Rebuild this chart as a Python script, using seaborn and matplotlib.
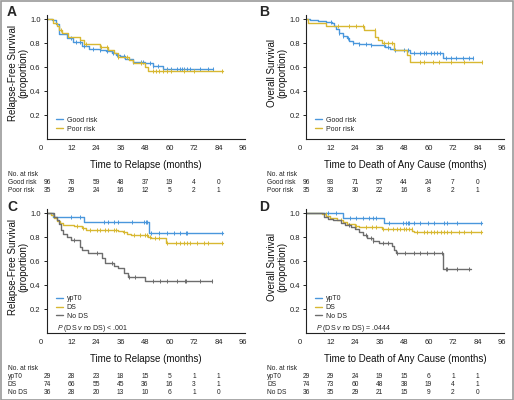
import numpy as np
import seaborn as sns
import matplotlib.pyplot as plt
from matplotlib import transforms
from matplotlib.patches import Rectangle

# colours of the groups
blue = '#4a97dc'
yellow = '#d8b832'
gray = '#6d6d6d'

months = [0, 12, 24, 36, 48, 60, 72, 84]

# --- A: relapse-free survival by risk group
a_good_t = [0, 2.5, 4.5, 6, 10, 12.6, 17, 20.5, 26, 29, 32, 34, 36, 38, 42, 48, 51.7, 57, 81.5]
a_good_s = [1.0, 0.99, 0.96, 0.88, 0.84, 0.81, 0.78, 0.755, 0.745, 0.735, 0.72, 0.70, 0.69, 0.67, 0.645, 0.635, 0.61, 0.585, 0.585]
a_good_c = [12, 14, 16, 18, 22.5, 26, 29.5, 32.5, 34.5, 37.7, 42, 46, 47, 50.5, 52, 54.6, 58.7, 60.6,
            63.5, 65, 66, 67, 68.5, 70, 75, 79, 81.5]
a_poor_t = [0, 3, 5, 6, 7.5, 10.5, 16, 18, 26, 30, 33, 35, 40, 42, 48, 49.5, 86]
a_poor_s = [1.0, 0.97, 0.94, 0.91, 0.885, 0.855, 0.825, 0.795, 0.77, 0.745, 0.72, 0.685, 0.66, 0.635, 0.605, 0.57, 0.57]
a_poor_c = [7, 19, 26.5, 29.5, 35, 39, 46, 52, 53.5, 55, 57, 59, 60.6, 67, 72, 85.5]
a_risk_good = [96, 78, 59, 48, 37, 19, 4, 0]
a_risk_poor = [35, 29, 24, 16, 12, 5, 2, 1]

# --- B: overall survival by risk group
b_good_t = [0, 2, 6, 10, 12.5, 13.5, 14.5, 16, 18, 20, 21, 23, 26, 32, 38.5, 41, 43, 51, 67, 82]
b_good_s = [1.0, 0.99, 0.985, 0.975, 0.965, 0.94, 0.915, 0.885, 0.86, 0.84, 0.82, 0.80, 0.795, 0.785, 0.77, 0.755, 0.74, 0.72, 0.675, 0.675]
b_good_c = [12.3, 16.4, 18, 20.5, 23, 26, 29.6, 32, 38, 40.4, 43.7, 47.8, 50, 52.8, 56, 57.8, 58.6, 61,
            62.7, 64.4, 65.7, 68.5, 71, 73.5, 76.8, 80, 82]
b_poor_t = [0, 1, 10, 28.5, 34, 35.5, 37, 43, 49.5, 51, 86]
b_poor_s = [1.0, 0.97, 0.94, 0.91, 0.855, 0.83, 0.80, 0.745, 0.70, 0.64, 0.64]
b_poor_c = [15.6, 21, 24.7, 28, 33.8, 38, 40.4, 42, 56, 57.8, 62, 65, 71, 77.6, 86]
b_risk_good = [96, 93, 71, 57, 44, 24, 7, 0]
b_risk_poor = [35, 33, 30, 22, 16, 8, 2, 1]

# --- C: relapse-free survival by downstaging
c_yp_t = [0, 3, 18, 50, 86]
c_yp_s = [1.0, 0.965, 0.93, 0.835, 0.835]
c_yp_c = [12, 16, 27.7, 30, 33, 35, 41.6, 47.4, 48.4, 49, 51, 54.8, 59, 62, 65.4, 67.9, 68.7, 85.6]
c_ds_t = [0, 2, 3.5, 5, 6.5, 8, 13, 17, 19, 35, 37, 39, 41, 49.5, 51, 58.5, 86]
c_ds_s = [1.0, 0.985, 0.96, 0.935, 0.915, 0.90, 0.89, 0.875, 0.86, 0.85, 0.84, 0.83, 0.82, 0.805, 0.79, 0.755, 0.755]
c_ds_c = [14.6, 17.5, 21, 24.4, 26, 28.5, 30, 32.6, 34, 37.5, 42.5, 45.7, 48, 49, 50.6, 53, 54.8, 59,
          63, 65.4, 67, 68.7, 70, 73.6, 76.9, 79, 85.6]
c_no_t = [0, 3.5, 5, 6, 7, 8, 10, 12, 16, 17, 20, 22, 27, 28.5, 33, 35, 37.5, 39.5, 48, 81]
c_no_s = [1.0, 0.97, 0.94, 0.91, 0.86, 0.83, 0.805, 0.78, 0.72, 0.69, 0.67, 0.665, 0.625, 0.583, 0.56, 0.54, 0.50, 0.47, 0.43, 0.43]
c_no_c = [13.3, 24.4, 32, 40, 43, 52, 55.6, 59, 63.8, 67.4, 68, 75, 81]
c_risk_yp = [29, 28, 23, 18, 15, 5, 1, 1]
c_risk_ds = [74, 66, 55, 45, 36, 16, 3, 1]
c_risk_no = [36, 28, 20, 13, 10, 6, 1, 0]

# --- D: overall survival by downstaging
d_yp_t = [0, 18, 38, 86]
d_yp_s = [1.0, 0.96, 0.915, 0.915]
d_yp_c = [11, 14.7, 21.8, 24.6, 28, 31, 33, 34.5, 40.8, 47.4, 48.8, 49.8, 50.7, 52.7, 56, 60, 62.6,
          67.6, 69, 74, 85.8]
d_ds_t = [0, 8, 10, 12, 15, 18, 20, 24, 26, 37, 52, 53, 86]
d_ds_s = [1.0, 0.99, 0.975, 0.96, 0.945, 0.93, 0.91, 0.895, 0.885, 0.87, 0.855, 0.84, 0.84]
d_ds_c = [9.8, 17.2, 24.6, 29.6, 32.1, 34.5, 37.9, 40.3, 42.8, 44.5, 46.1, 47.8, 49.1, 50.3, 51.9, 54.4,
          57.7, 59.3, 61, 62.6, 64.3, 65.9, 67.6, 69.3, 70.9, 75, 77.5, 80.8, 85.8]
d_no_t = [0, 9, 11, 13, 17, 19, 22, 24, 26, 28, 30, 33, 36, 42, 43, 44, 67, 81]
d_no_s = [1.0, 0.97, 0.955, 0.94, 0.92, 0.905, 0.885, 0.865, 0.845, 0.82, 0.79, 0.77, 0.755, 0.725, 0.695, 0.665, 0.535, 0.535]
d_no_c = [21.3, 29.6, 32, 33, 37.9, 40, 44.5, 48.6, 52.7, 56, 59.3, 62.6, 66.5, 68.4, 69.3, 74, 80]
d_risk_yp = [29, 29, 24, 19, 15, 6, 1, 1]
d_risk_ds = [74, 73, 60, 48, 38, 19, 4, 1]
d_risk_no = [36, 35, 29, 21, 15, 9, 2, 0]

sns.set_theme(style='white')
plt.rcParams['font.family'] = ['Liberation Sans', 'DejaVu Sans']
plt.rcParams['mathtext.fontset'] = 'custom'
plt.rcParams['mathtext.it'] = 'Liberation Sans:italic'
plt.rcParams['mathtext.rm'] = 'Liberation Sans'

W, H = 514, 400
fig = plt.figure(figsize=(W / 100, H / 100), dpi=100)
fig.patch.set_facecolor('white')
fig.patches.append(Rectangle((0.001, 0.001), 0.998, 0.997, transform=fig.transFigure,
                             fill=False, edgecolor='#9a9a9a', lw=1.2))

TXT = '#222222'


def km(ax, t, s, cens, color, label):
    sns.lineplot(x=t, y=s, drawstyle='steps-post', color=color, lw=1.0, label=label,
                 estimator=None, sort=False, ax=ax)
    t = np.asarray(t)
    s = np.asarray(s)
    ys = s[np.searchsorted(t, cens, side='right') - 1]
    ax.plot(cens, ys, '|', ms=3.5, mew=0.7, color=color)


def setup(ax, ylabel, xlabel, letter, lx, ly):
    ax.set_xlim(0, 97)
    ax.set_ylim(0, 1.035)
    ax.set_xticks(months + [96])
    ax.set_yticks([0.2, 0.4, 0.6, 0.8, 1.0])
    ax.set_yticklabels(['0.2', '0.4', '0.6', '0.8', '1.0'])
    ax.tick_params(axis='x', length=0, pad=4, labelsize=5.5, colors=TXT)
    ax.tick_params(axis='y', length=2.5, width=0.7, pad=2, labelsize=5.5, colors=TXT, left=True)
    lab0 = ax.get_xticklabels()[0]
    lab0.set_transform(lab0.get_transform() + transforms.ScaledTranslation(-0.06, 0, fig.dpi_scale_trans))
    for sp in ['top', 'right']:
        ax.spines[sp].set_visible(False)
    for sp in ['left', 'bottom']:
        ax.spines[sp].set_color(TXT)
        ax.spines[sp].set_linewidth(0.8)
    ax.set_ylabel(ylabel, fontsize=7, linespacing=1.05, color='#111111')
    ax.yaxis.set_label_coords(-0.095, 0.53)
    ax.set_xlabel(xlabel, fontsize=7, color='#111111', labelpad=6)
    fig.text(lx / W, 1 - ly / H, letter, fontsize=10, fontweight='bold', ha='left', va='center')


def risk(ax, top, rows):
    tr = transforms.blended_transform_factory(ax.transData, fig.transFigure)
    x0 = ax.get_position().x0 - 39 / W
    fig.text(x0, 1 - top / H, 'No. at risk', fontsize=4.8, va='center', color=TXT)
    for i, (name, vals) in enumerate(rows):
        y = 1 - (top + 8 * (i + 1)) / H
        fig.text(x0, y, name, fontsize=4.8, va='center', color=TXT)
        for m, v in zip(months, vals):
            ax.text(m, y, str(v), transform=tr, fontsize=4.8, ha='center', va='center', color=TXT)


axA = fig.add_axes([47 / W, 1 - 139 / H, 198 / W, 124 / H])
axB = fig.add_axes([306 / W, 1 - 139 / H, 198 / W, 124 / H])
axC = fig.add_axes([47 / W, 1 - 333 / H, 198 / W, 124 / H])
axD = fig.add_axes([306 / W, 1 - 333 / H, 198 / W, 124 / H])

km(axA, a_good_t, a_good_s, a_good_c, blue, 'Good risk')
km(axA, a_poor_t, a_poor_s, a_poor_c, yellow, 'Poor risk')
km(axB, b_good_t, b_good_s, b_good_c, blue, 'Good risk')
km(axB, b_poor_t, b_poor_s, b_poor_c, yellow, 'Poor risk')
km(axC, c_yp_t, c_yp_s, c_yp_c, blue, 'ypT0')
km(axC, c_ds_t, c_ds_s, c_ds_c, yellow, 'DS')
km(axC, c_no_t, c_no_s, c_no_c, gray, 'No DS')
km(axD, d_yp_t, d_yp_s, d_yp_c, blue, 'ypT0')
km(axD, d_ds_t, d_ds_s, d_ds_c, yellow, 'DS')
km(axD, d_no_t, d_no_s, d_no_c, gray, 'No DS')

setup(axA, 'Relapse-Free Survival\n(proportion)', 'Time to Relapse (months)', 'A', 7, 12)
setup(axB, 'Overall Survival\n(proportion)', 'Time to Death of Any Cause (months)', 'B', 259, 12)
setup(axC, 'Relapse-Free Survival\n(proportion)', 'Time to Relapse (months)', 'C', 7, 207)
setup(axD, 'Overall Survival\n(proportion)', 'Time to Death of Any Cause (months)', 'D', 259, 207)

for ax in [axA, axB]:
    ax.legend(loc='lower left', bbox_to_anchor=(0.03, 0.03), frameon=False, fontsize=5,
              handlelength=1.1, handletextpad=0.5, labelspacing=0.25, borderaxespad=0,
              labelcolor=TXT)
for ax, p in [(axC, '< .001'), (axD, '= .0444')]:
    ax.legend(loc='lower left', bbox_to_anchor=(0.03, 0.085), frameon=False, fontsize=5,
              handlelength=1.1, handletextpad=0.5, labelspacing=0.25, borderaxespad=0,
              labelcolor=TXT)
    ax.text(0.05, 0.04, '$P$ (DS $v$ no DS) ' + p, transform=ax.transAxes, fontsize=5,
            va='center', color=TXT)

risk(axA, 174, [('Good risk', a_risk_good), ('Poor risk', a_risk_poor)])
risk(axB, 174, [('Good risk', b_risk_good), ('Poor risk', b_risk_poor)])
risk(axC, 369, [('ypT0', c_risk_yp), ('DS', c_risk_ds), ('No DS', c_risk_no)])
risk(axD, 369, [('ypT0', d_risk_yp), ('DS', d_risk_ds), ('No DS', d_risk_no)])

fig.savefig('out.png', dpi=100, facecolor='white')
